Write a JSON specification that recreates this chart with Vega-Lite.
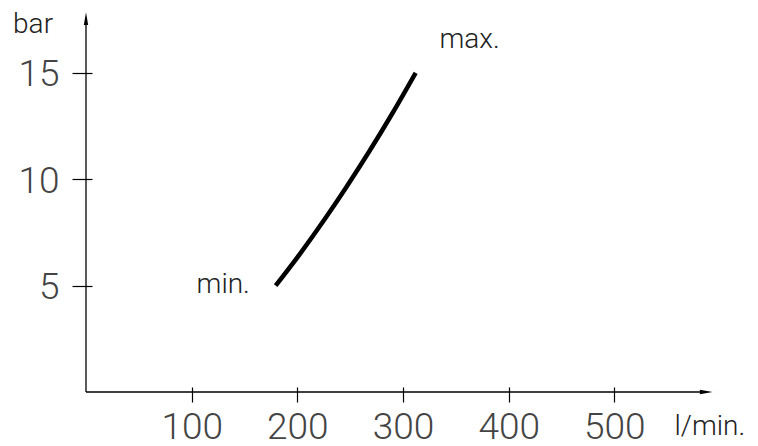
{
  "$schema": "https://vega.github.io/schema/vega-lite/v6.json",
  "width": 634,
  "height": 383,
  "autosize": {"type": "none"},
  "padding": {"left": 86, "top": 9, "right": 38, "bottom": 54},
  "background": "white",
  "config": {"view": {"stroke": null}},
  "datasets": {
    "curve": [
      {"flow": 179.5, "pressure": 5},
      {"flow": 202, "pressure": 6.46},
      {"flow": 227, "pressure": 8.2},
      {"flow": 246, "pressure": 9.6},
      {"flow": 268, "pressure": 11.3},
      {"flow": 290, "pressure": 13.1},
      {"flow": 312, "pressure": 15}
    ],
    "axes": [
      {"x": 0, "y": 0, "x2": 588, "y2": 0},
      {"x": 0, "y": 0, "x2": 0, "y2": 17.5}
    ],
    "arrows": [
      {"x": 593, "y": 0, "dir": "right"},
      {"x": 0, "y": 17.85, "dir": "up"}
    ],
    "labels": [
      {"x": 155, "y": 4.66, "text": "min.", "align": "right"},
      {"x": 334.5, "y": 16.15, "text": "max.", "align": "left"},
      {"x": -69, "y": 16.85, "text": "bar", "align": "left"},
      {"x": 557, "y": -2.0, "text": "l/min.", "align": "left"}
    ]
  },
  "layer": [
    {
      "data": {"name": "axes"},
      "mark": {"type": "rule", "color": "black", "strokeWidth": 1.3, "clip": false},
      "encoding": {
        "x": {"field": "x", "type": "quantitative", "scale": {"domain": [0, 600], "nice": false, "zero": false},
          "axis": {"values": [100, 200, 300, 400, 500], "domain": false, "grid": false, "title": null,
            "offset": -5, "tickSize": 15, "tickColor": "black", "tickWidth": 1.2,
            "labelFont": "Roboto", "labelFontWeight": 300, "labelFontSize": 37, "labelColor": "#444",
            "labelBaseline": "alphabetic", "labelPadding": 36, "labelAlign": "center", "labelFlush": false}},
        "y": {"field": "y", "type": "quantitative", "scale": {"domain": [0, 18], "nice": false, "zero": false},
          "axis": {"values": [5, 10, 15], "domain": false, "grid": false, "title": null,
            "offset": -6, "tickSize": 20, "tickColor": "black", "tickWidth": 1.2,
            "labelFont": "Roboto", "labelFontWeight": 300, "labelFontSize": 37, "labelColor": "#444",
            "labelBaseline": "alphabetic", "labelOffset": 13, "labelPadding": 13, "labelAlign": "right"}},
        "x2": {"field": "x2"},
        "y2": {"field": "y2"}
      }
    },
    {
      "data": {"name": "arrows"},
      "transform": [{"filter": "datum.dir == 'right'"}],
      "mark": {"type": "point", "shape": "M 0 0 L -1 -0.17 L -1 0.17 Z", "size": 650, "filled": true, "color": "black", "opacity": 1, "clip": false},
      "encoding": {
        "x": {"field": "x", "type": "quantitative"},
        "y": {"field": "y", "type": "quantitative"}
      }
    },
    {
      "data": {"name": "arrows"},
      "transform": [{"filter": "datum.dir == 'up'"}],
      "mark": {"type": "point", "shape": "M 0 0 L -0.17 1 L 0.17 1 Z", "size": 650, "filled": true, "color": "black", "opacity": 1, "clip": false},
      "encoding": {
        "x": {"field": "x", "type": "quantitative"},
        "y": {"field": "y", "type": "quantitative"}
      }
    },
    {
      "data": {"name": "curve"},
      "mark": {"type": "line", "color": "black", "strokeWidth": 4.5, "interpolate": "monotone", "strokeCap": "butt"},
      "encoding": {
        "x": {"field": "flow", "type": "quantitative"},
        "y": {"field": "pressure", "type": "quantitative"}
      }
    },
    {
      "data": {"name": "labels"},
      "transform": [{"filter": "datum.align == 'right'"}],
      "mark": {"type": "text", "font": "Roboto", "fontWeight": 300, "fontSize": 28, "color": "#222", "baseline": "alphabetic", "align": "right", "clip": false},
      "encoding": {
        "x": {"field": "x", "type": "quantitative"},
        "y": {"field": "y", "type": "quantitative"},
        "text": {"field": "text"}
      }
    },
    {
      "data": {"name": "labels"},
      "transform": [{"filter": "datum.align == 'left'"}],
      "mark": {"type": "text", "font": "Roboto", "fontWeight": 300, "fontSize": 28, "color": "#222", "baseline": "alphabetic", "align": "left", "clip": false},
      "encoding": {
        "x": {"field": "x", "type": "quantitative"},
        "y": {"field": "y", "type": "quantitative"},
        "text": {"field": "text"}
      }
    }
  ]
}
